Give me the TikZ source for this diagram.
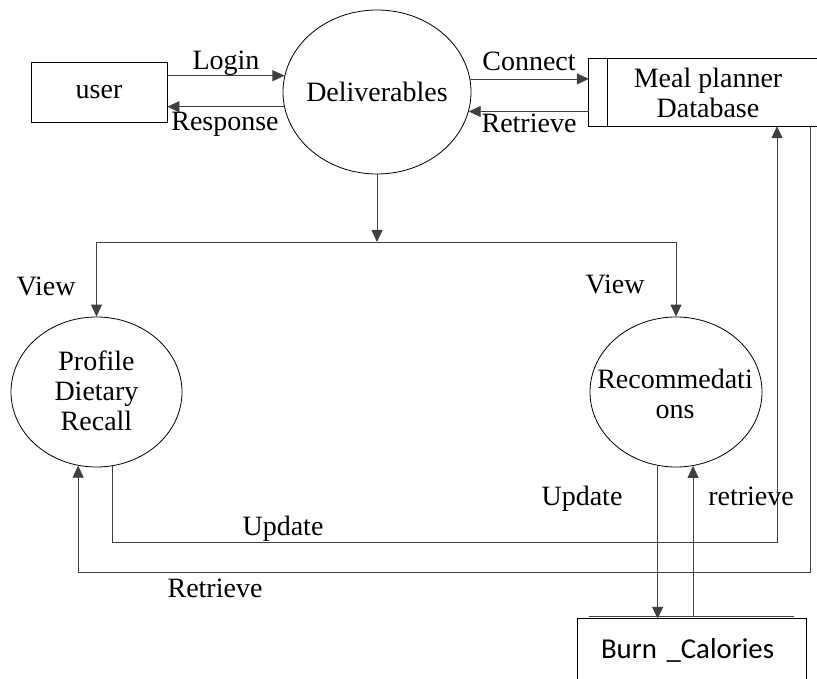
\documentclass[tikz,border=0pt]{standalone}
\usepackage{fontspec}
\setmainfont{Liberation Serif}
\newfontfamily\calibri{Carlito}
\usetikzlibrary{arrows.meta,shapes.geometric,calc}

\begin{document}
\begin{tikzpicture}[x=1pt,y=-1pt,
  every node/.style={font=\fontsize{28}{30}\selectfont, inner sep=0pt},
  proc/.style={ellipse,draw=black,line width=0.8pt},
  store/.style={draw=black,line width=0.8pt},
  flow/.style={line width=0.8pt,draw=black!75},
  arr/.style={flow,-{Triangle[length=12pt,width=11pt]}},
  lbl/.style={anchor=base}]
\useasboundingbox (0,0) rectangle (817,679);

% external entity
\node[store, minimum width=136pt, minimum height=60pt] (user) at (99,92) {user};

% processes
\node[proc, minimum width=188pt, minimum height=164pt] (deliv) at (377,92) {};
\node (delivtext) at (deliv) {Deliverables};
\node[proc, minimum width=171pt, minimum height=150pt] (profile) at (96.5,392) {};
\node[align=center] (profiletext) at (96.5,390.5) {Profile\\Dietary\\Recall};
\node[proc, minimum width=172pt, minimum height=150pt] (recom) at (676,392) {};
\node[align=center] (recomtext) at (675,394) {Recommedati\\ons};

% data stores
\node[minimum width=238pt, minimum height=67pt, align=center] (db) at (708,92.5) {Meal planner\\Database};
\draw[store] (db.north east) -- (db.north west) -- (db.south west) -- (db.south east);
\draw[store] ($(db.north west)+(19,0)$) -- ($(db.south west)+(19,0)$);

\node[minimum width=228pt, minimum height=62pt, text width=182pt, align=left,
      inner xsep=23pt, font=\calibri\fontsize{28.8}{30}\selectfont] (burn) at (692,650) {Burn \_Calories};
\draw[store] (burn.south west) -- (burn.north west) -- (burn.north east) -- (burn.south east);
\draw[flow] ($(burn.north west)+(11,-2)$) -- ($(burn.north east)+(-12,-2)$);

% flows between user, process and database
\draw[arr] (user.east |- deliv.170.8) -- (deliv.170.8);
\draw[arr] (deliv.189.8) -- (user.east |- deliv.189.8);
\draw[arr] (deliv.8.6) -- (db.west |- deliv.8.6);
\draw[arr] (db.west |- deliv.348.9) -- (deliv.348.9);

% split towards the two views
\coordinate (fork) at (377,242);
\draw[arr] (deliv.south) -- (fork);
\draw[arr] (fork) -| (profile.north);
\draw[arr] (fork) -| (recom.north);

% profile <-> database
\coordinate (updcorner) at (777,542);
\coordinate (retcorner) at (810,572);
\draw[arr] (profile.282.6) |- (updcorner) -- (updcorner |- db.south);
\draw[arr] (retcorner |- db.south) -- (retcorner) -| (profile.256.6);

% recommendations <-> burn calories
\draw[arr] (recom.256.2) -- (recom.256.2 |- burn.north);
\draw[arr] ($(recom.283 |- burn.north)+(0,-2)$) -- (recom.283);

% flow labels
\node[lbl] (tlogin) at (226,70) {Login};
\node[lbl] (tresp) at (225,131) {Response};
\node[lbl] (tconn) at (529,71) {Connect};
\node[lbl] (tretr) at (529,133) {Retrieve};
\node[lbl] (tview1) at (46,295) {View};
\node[lbl] (tview2) at (615,294) {View};
\node[lbl] (tupd2) at (582,505) {Update};
\node[lbl] (tretr2) at (751,505) {retrieve};
\node[lbl] (tupd1) at (283,535) {Update};
\node[lbl] (tretr1) at (215,597) {Retrieve};
\end{tikzpicture}
\end{document}
